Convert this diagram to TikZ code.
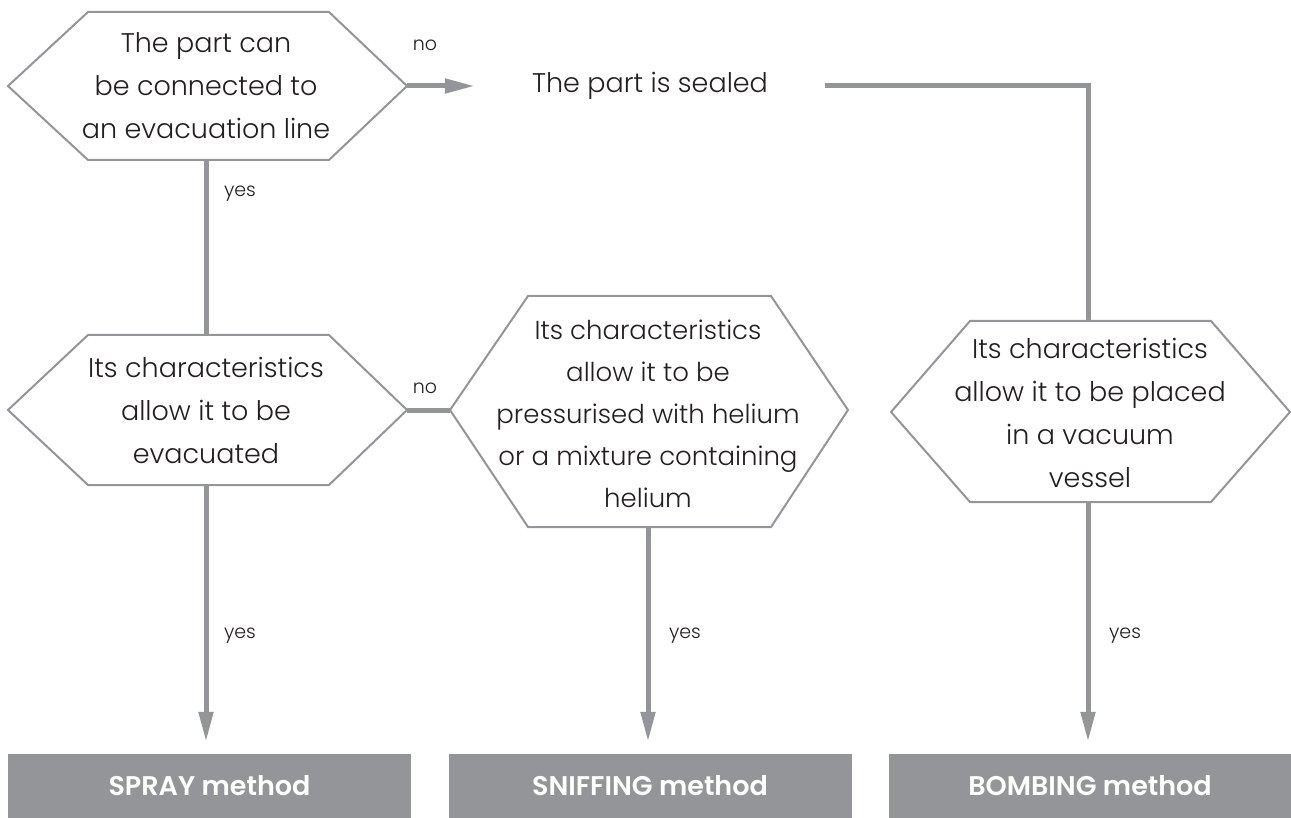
\documentclass[tikz,border=0pt]{standalone}
\usepackage{fontspec}
\setmainfont{Poppins}[UprightFont={* Light},BoldFont={* SemiBold}]
\usetikzlibrary{arrows.meta}
\definecolor{lgray}{HTML}{939598}
\definecolor{ink}{HTML}{231F20}
\tikzset{
  hexa/.style={draw=lgray,line width=2pt,fill=white,line join=miter},
  qtext/.style={align=center,text=ink,font=\fontsize{27}{43}\selectfont,inner sep=0pt},
  conn/.style={draw=lgray,line width=5pt},
  arr/.style={conn,-{Triangle[length=30pt,width=14pt]}},
  lbl/.style={text=ink,font=\fontsize{19}{22}\selectfont,inner sep=0pt},
  method/.style={fill=lgray,text=white,font=\fontsize{27}{30}\bfseries\selectfont,minimum width=403pt,minimum height=64pt,inner sep=0pt}
}
\begin{document}
\begin{tikzpicture}[x=1pt,y=-1pt]
\useasboundingbox (0,0) rectangle (1291,818);
% hexagon 1
\draw[hexa] (8,86) coordinate (h1w) -- (88,12) -- (329,12) -- (407,86) coordinate (h1e) -- (329,160) -- (88,160) -- cycle;
\coordinate (h1s) at (206,160);
\node[qtext] (q1) at (206,86) {The part can\\be connected to\\an evacuation line};
% hexagon 2
\draw[hexa] (8,410) coordinate (h2w) -- (88,335) -- (329,335) -- (407,410) coordinate (h2e) -- (329,485) -- (88,485) -- cycle;
\coordinate (h2n) at (206,335);
\coordinate (h2s) at (206,485);
\node[qtext] (q2) at (206,410) {Its characteristics\\allow it to be\\evacuated};
% hexagon 3 (middle)
\draw[hexa] (450,410) coordinate (h3w) -- (528,296) -- (771,296) -- (848,410) -- (771,527) -- (528,527) -- cycle;
\coordinate (h3s) at (648,527);
\node[qtext,font=\fontsize{26}{42}\selectfont] (q3) at (648,414) {Its characteristics\\allow it to be\\pressurised with helium\\or a mixture containing\\helium};
% hexagon 4 (right)
\draw[hexa] (891,412) -- (970,321) -- (1211,321) -- (1290,412) -- (1211,502) -- (970,502) -- cycle;
\coordinate (h4n) at (1088,321);
\coordinate (h4s) at (1088,502);
\node[qtext] (q4) at (1090,413) {Its characteristics\\allow it to be placed\\in a vacuum\\vessel};
% sealed
\node[qtext,minimum width=350pt,minimum height=30pt] (sealed) at (650,86) {The part is sealed};
\coordinate (corner) at (1088,86);
% methods
\node[method] (spray) at (209.5,786) {SPRAY method};
\node[method] (sniff) at (650,786) {SNIFFING method};
\node[method] (bomb) at (1090,786) {BOMBING method};
% connectors
\draw[arr] (h1e) -- (sealed.west);
\draw[conn] (h1s) -- (h2n);
\draw[conn] (h2e) -- (h3w);
\draw[conn] (sealed.east) -- (corner) -- (h4n);
\draw[arr,shorten >=12pt] (h2s) -- (h2s |- spray.north);
\draw[arr,shorten >=12pt] (h3s) -- (h3s |- sniff.north);
\draw[arr,shorten >=12pt] (h4s) -- (h4s |- bomb.north);
% labels
\node[lbl] (no1) at (425,45) {no};
\node[lbl] (no2) at (425,388) {no};
\node[lbl] (y1) at (240,194) {yes};
\node[lbl] (y2) at (240,636) {yes};
\node[lbl] (y3) at (685,636) {yes};
\node[lbl] (y4) at (1125,636) {yes};
\end{tikzpicture}
\end{document}
